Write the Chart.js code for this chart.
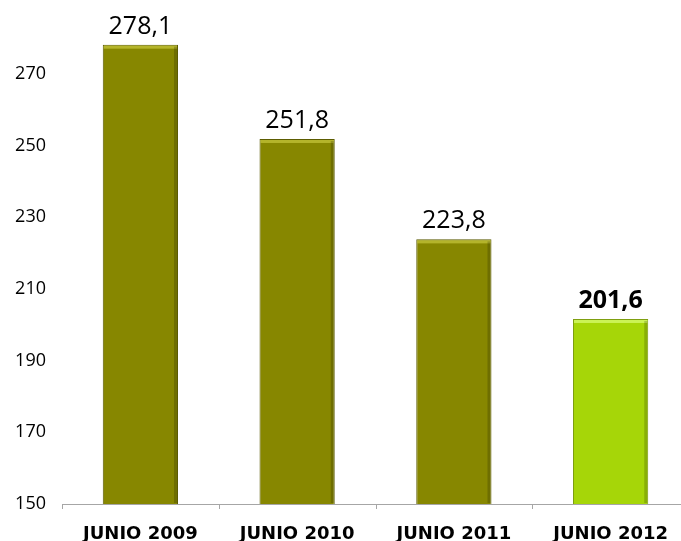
<!DOCTYPE html>
<html>
<head>
<meta charset="utf-8">
<script src="https://cdn.jsdelivr.net/npm/chart.js@4"></script>
<style>
  body { margin: 0; background: #fff; overflow: hidden; }
  #wrap { width: 700px; height: 541px; }
</style>
</head>
<body>
<div id="wrap"><canvas id="grafico"></canvas></div>
<script>
// Datos
const categorias = ['JUNIO 2009', 'JUNIO 2010', 'JUNIO 2011', 'JUNIO 2012'];
const valores = [278.1, 251.8, 223.8, 201.6];
const colores = ['#878700', '#878700', '#878700', '#a6d608'];
const bordes = ['#5a5a00', '#5a5a00', '#5a5a00', '#7d9e10'];

// Etiquetas encima de cada barra
const etiquetas = {
  id: 'etiquetas',
  afterDatasetsDraw(chart) {
    const ctx = chart.ctx;
    const meta = chart.getDatasetMeta(0);
    ctx.save();
    ctx.textAlign = 'center';
    ctx.textBaseline = 'alphabetic';
    ctx.fillStyle = '#000';
    meta.data.forEach((bar, i) => {
      const ultimo = i === valores.length - 1;
      ctx.font = (ultimo ? 'bold ' : '') + '25px "Open Sans"';
      ctx.fillText(valores[i].toFixed(1).replace('.', ','), bar.x, bar.y - 11);
    });
    ctx.restore();
  }
};

// Brillo arriba y sombra a la derecha (efecto bisel)
const bisel = {
  id: 'bisel',
  afterDatasetsDraw(chart) {
    const ctx = chart.ctx;
    const meta = chart.getDatasetMeta(0);
    const fondo = chart.chartArea.bottom;
    ctx.save();
    meta.data.forEach((bar, i) => {
      const l = bar.x - bar.width / 2, r = bar.x + bar.width / 2;
      const base = Math.min(bar.base, fondo);
      ctx.fillStyle = i === 3 ? 'rgba(220,255,120,0.7)' : 'rgba(200,200,60,0.7)';
      ctx.fillRect(l + 1, bar.y + 1, r - l - 2, 3);
      ctx.fillStyle = 'rgba(0,0,0,0.18)';
      ctx.fillRect(r - 4, bar.y + 2, 3, base - bar.y - 3);
    });
    ctx.restore();
  }
};

// Marcas pequeñas entre categorías en el eje X
const marcas = {
  id: 'marcas',
  afterDraw(chart) {
    const x = chart.scales.x;
    const ctx = chart.ctx;
    const paso = x.width / categorias.length;
    ctx.save();
    ctx.strokeStyle = '#a6a6a6';
    ctx.lineWidth = 1;
    ctx.beginPath();
    for (let i = 0; i <= categorias.length; i++) {
      const px = Math.round(x.left + i * paso) + 0.5;
      ctx.moveTo(px, x.top);
      ctx.lineTo(px, x.top + 5);
    }
    ctx.stroke();
    ctx.restore();
  }
};

new Chart(document.getElementById('grafico'), {
  type: 'bar',
  data: {
    labels: categorias,
    datasets: [{
      data: valores,
      backgroundColor: colores,
      borderColor: bordes,
      borderWidth: 1,
      categoryPercentage: 1,
      barPercentage: 0.48
    }]
  },
  options: {
    responsive: true,
    maintainAspectRatio: false,
    animation: false,
    layout: { padding: { top: 2, right: 11, left: 0, bottom: 0 } },
    plugins: {
      legend: { display: false },
      tooltip: { enabled: false }
    },
    scales: {
      x: {
        grid: { display: false },
        border: { color: '#a6a6a6' },
        ticks: { color: '#000', font: { family: 'DejaVu Sans', weight: 'bold', size: 18 }, padding: 12 },
        afterFit(scale) { scale.height = 37; }
      },
      y: {
        min: 150,
        max: 290,
        grid: { display: true, drawOnChartArea: false, drawTicks: true, tickLength: 15, color: 'rgba(0,0,0,0)' },
        border: { display: false },
        ticks: {
          stepSize: 20,
          color: '#000',
          font: { family: 'Open Sans', size: 18, lineHeight: 0.1 },
          padding: 1,
          callback: v => v > 280 ? '' : v
        },
        afterFit(scale) { scale.width = 62; }
      }
    }
  },
  plugins: [etiquetas, bisel, marcas]
});
</script>
</body>
</html>
